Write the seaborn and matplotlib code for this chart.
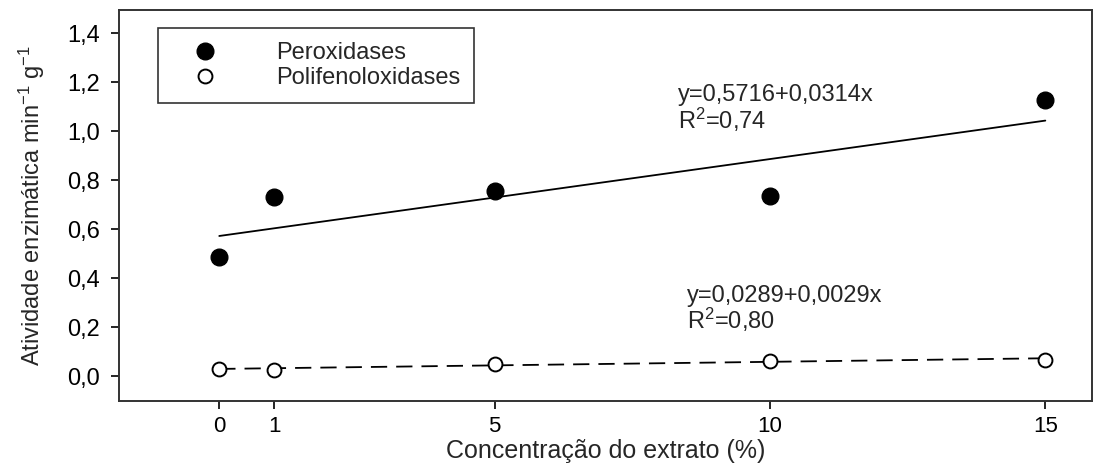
import numpy as np
import pandas as pd
import matplotlib
matplotlib.use("Agg")
import matplotlib.pyplot as plt
from matplotlib.ticker import FuncFormatter
import seaborn as sns

# Data
concentracao = [0, 1, 5, 10, 15]
peroxidases = [0.486, 0.731, 0.755, 0.733, 1.127]
polifenoloxidases = [0.030, 0.025, 0.049, 0.061, 0.065]
x_ticks = [0, 1, 5, 10, 15]
y_ticks = [0.0, 0.2, 0.4, 0.6, 0.8, 1.0, 1.2, 1.4]
fit_pox = (0.5716, 0.0314)
fit_ppo = (0.0289, 0.0029)
eq_pox = ["y=0,5716+0,0314x", "R$^2$=0,74"]
eq_ppo = ["y=0,0289+0,0029x", "R$^2$=0,80"]

sns.set_style("ticks")
plt.rcParams["font.family"] = ["Liberation Sans", "DejaVu Sans"]
plt.rcParams["mathtext.fontset"] = "custom"
plt.rcParams["mathtext.rm"] = "Liberation Sans"
plt.rcParams["mathtext.it"] = "Liberation Sans:italic"
plt.rcParams["mathtext.bf"] = "Liberation Sans:bold"

df = pd.DataFrame({"x": concentracao, "pox": peroxidases, "ppo": polifenoloxidases})
xfit = np.array([0, 15])
fit_df = pd.DataFrame({
    "x": xfit,
    "pox": fit_pox[0] + fit_pox[1] * xfit,
    "ppo": fit_ppo[0] + fit_ppo[1] * xfit,
})

fig = plt.figure(figsize=(10.94, 4.66), dpi=100)
ax = fig.add_axes([0.1088, 0.1395, 0.8895, 0.8390])

sns.lineplot(data=fit_df, x="x", y="pox", ax=ax, color="black", linewidth=1.3)
sns.lineplot(data=fit_df, x="x", y="ppo", ax=ax, color="black", linewidth=1.3,
             linestyle=(0, (9, 5)))
ax.plot(df["x"], df["pox"], linestyle="none", marker="o", markersize=12,
        markerfacecolor="black", markeredgecolor="black", label="Peroxidases")
ax.plot(df["x"], df["ppo"], linestyle="none", marker="o", markersize=10,
        markerfacecolor="white", markeredgecolor="black", markeredgewidth=1.4,
        label="Polifenoloxidases")

ax.set_xlim(-1.82, 15.85)
ax.set_ylim(-0.102, 1.494)
ax.set_xticks(x_ticks)
ax.set_yticks(y_ticks)
ax.yaxis.set_major_formatter(FuncFormatter(lambda v, p: f"{v:.1f}".replace(".", ",")))
ax.xaxis.set_major_formatter(FuncFormatter(lambda v, p: f"{int(v)}"))
ax.tick_params(axis="y", direction="out", length=6, width=1.2, labelsize=17, pad=8,
               colors="black")
ax.tick_params(axis="x", direction="out", length=6, width=1.2, labelsize=16, pad=5,
               colors="black")
for s in ax.spines.values():
    s.set_linewidth(1.4)
    s.set_color("#333333")

ax.set_xlabel("Concentração do extrato (%)", fontsize=18, labelpad=1)
ax.set_ylabel("Atividade enzimática min$^{-1}$ g$^{-1}$", fontsize=17, labelpad=14)

ax.text(8.33, 1.09, eq_pox[0] + "\n" + eq_pox[1], fontsize=17, ha="left", va="center",
        linespacing=0.95)
ax.text(8.5, 0.27, eq_ppo[0] + "\n" + eq_ppo[1], fontsize=17, ha="left", va="center",
        linespacing=0.95)

leg = ax.legend(loc="upper left", bbox_to_anchor=(0.040, 0.954), frameon=True,
                fancybox=False, edgecolor="black", fontsize=17, handletextpad=1.6,
                borderpad=0.6, labelspacing=0.12, handlelength=2.8, borderaxespad=0)
leg.get_frame().set_linewidth(1.2)

fig.savefig("out.png", dpi=100)
